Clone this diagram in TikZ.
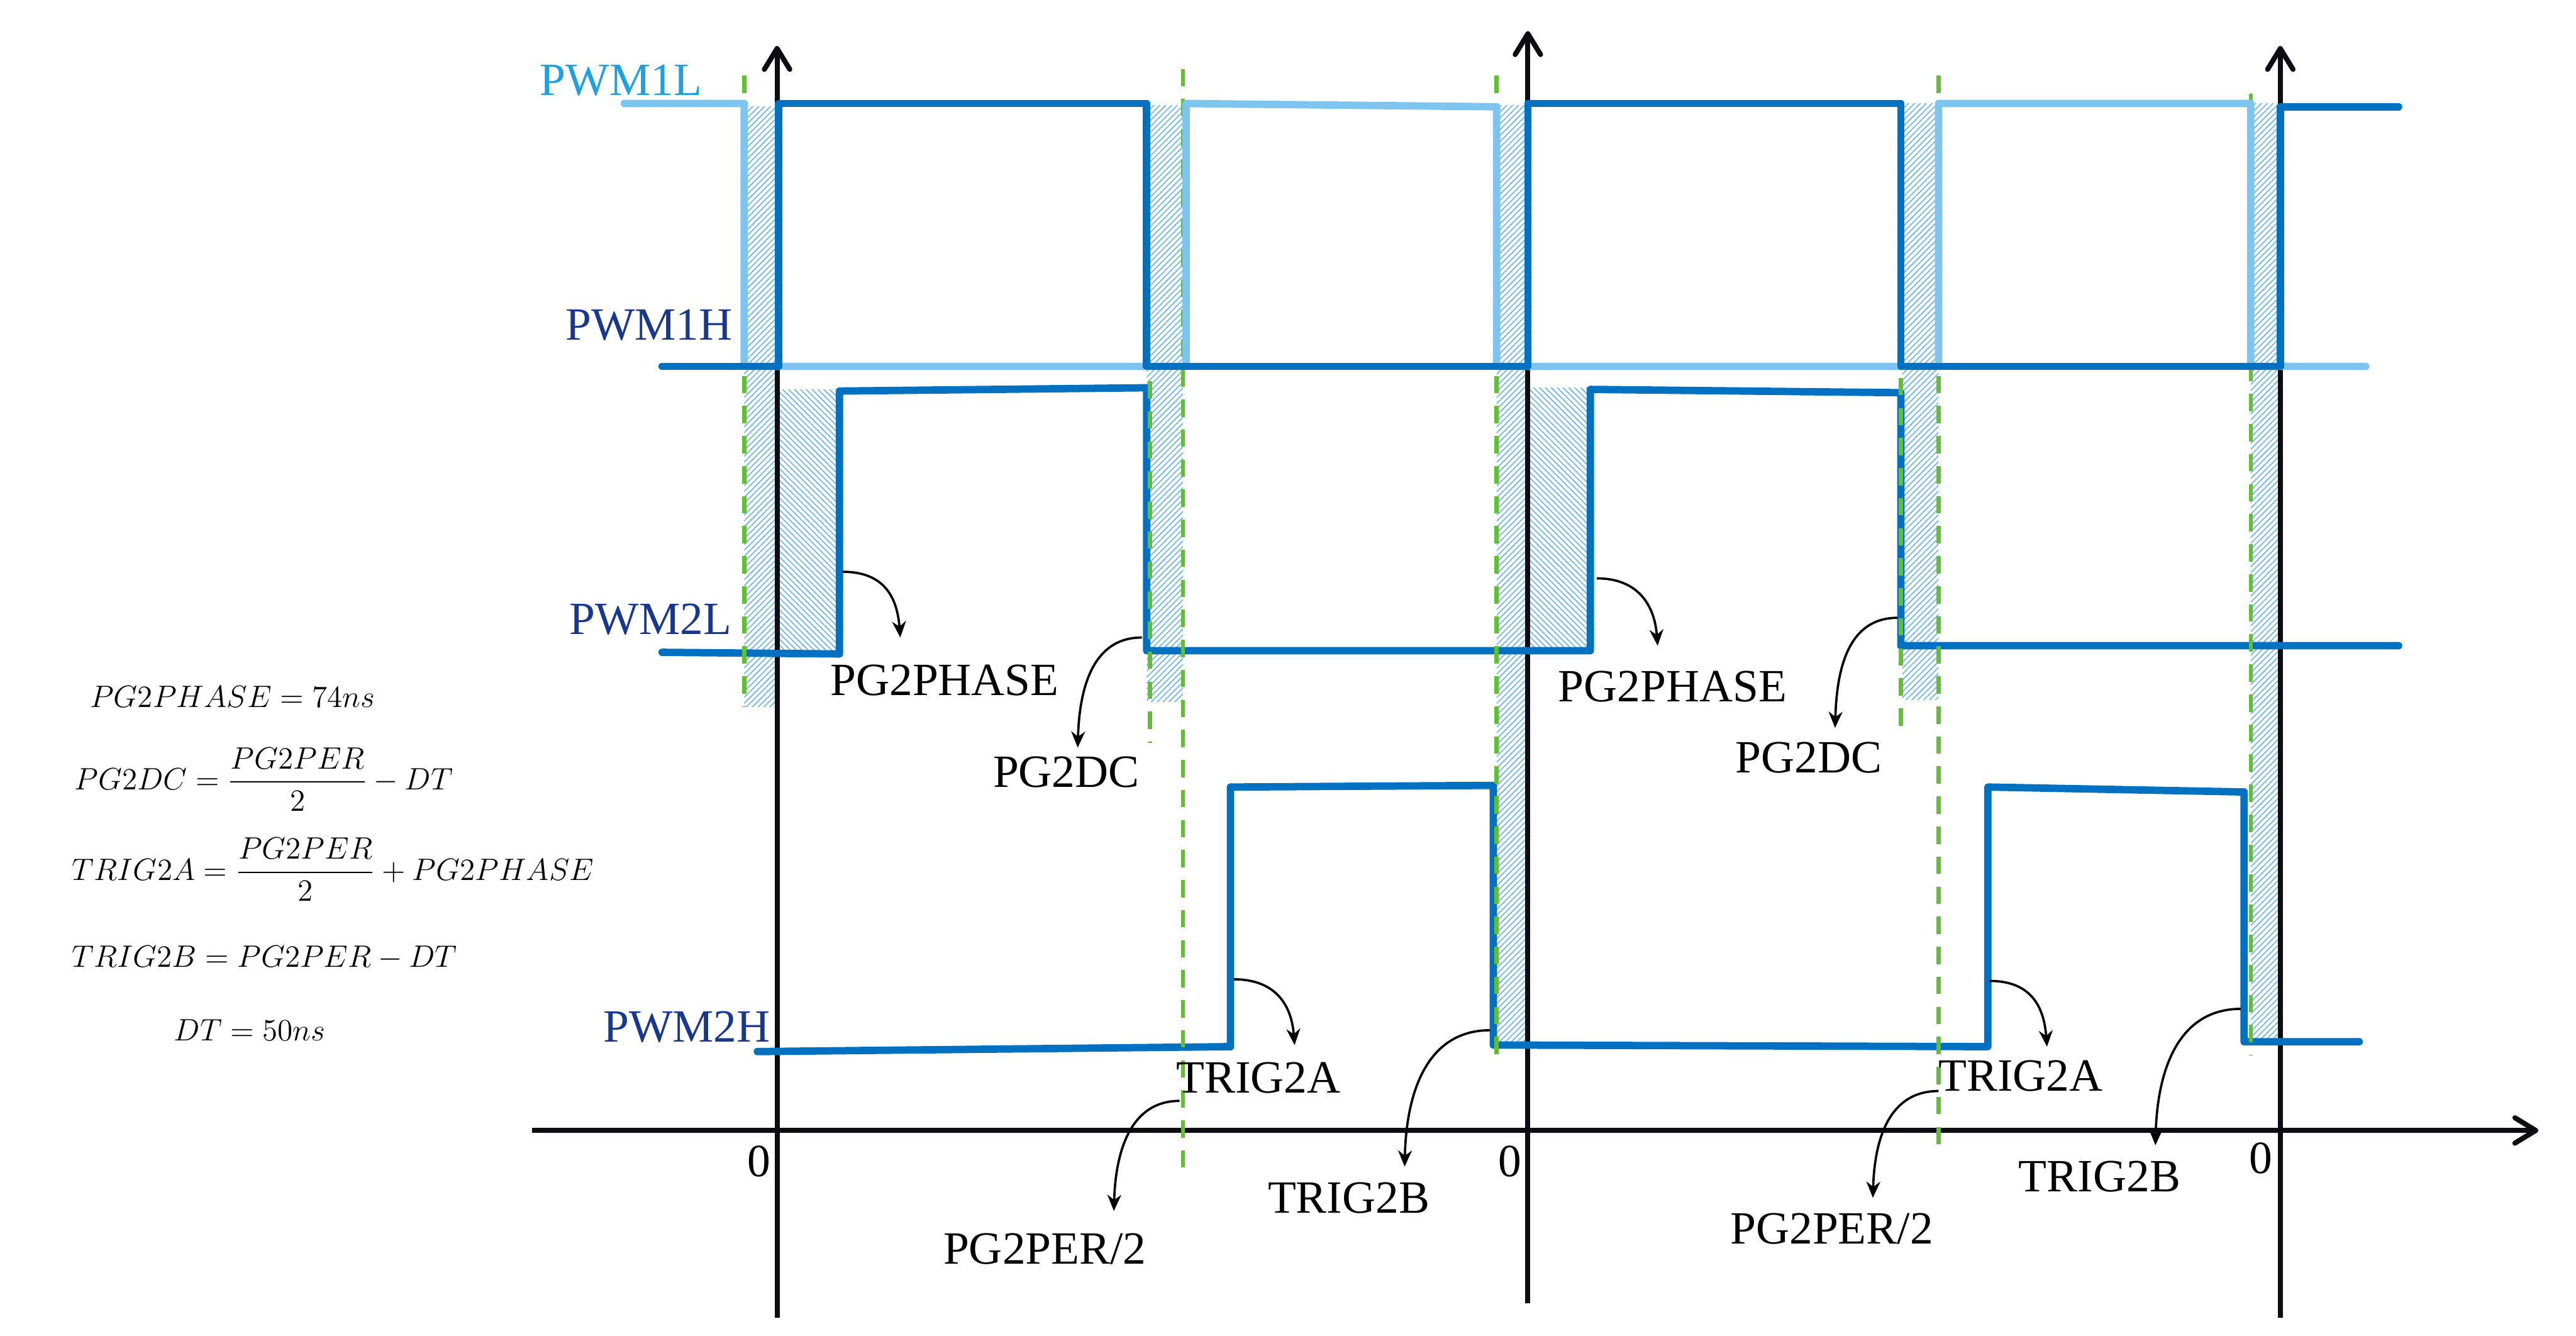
\documentclass[tikz,border=0pt]{standalone}
\usepackage{amsmath}
\usepackage{fontspec}
\newfontfamily\lblfont{Liberation Serif}
\usepackage{tikz}
\usetikzlibrary{arrows.meta,patterns.meta}
\definecolor{sigdark}{RGB}{0,112,192}
\definecolor{siglight}{RGB}{125,197,238}
\definecolor{hatchblue}{RGB}{105,182,230}
\definecolor{dtgreen}{RGB}{98,190,52}
\definecolor{lblcyan}{RGB}{30,160,225}
\definecolor{lblnavy}{RGB}{25,55,140}
\definecolor{axisblack}{RGB}{12,12,18}
\tikzset{
  axisln/.style={-{Straight Barb[length=9pt,width=11pt,round]}, line width=2.2pt, axisblack},
  sigln/.style={line width=3.2pt, line cap=round, line join=round},
  dtline/.style={dtgreen, line width=1.8pt, dash pattern=on 7.5pt off 5.5pt},
  callout/.style={-{Stealth[length=7pt,width=6pt]}, line width=1pt, black},
  lbl/.style={font={\lblfont\fontsize{20}{24}\selectfont}, inner sep=0pt},
  eqn/.style={font={\fontsize{14.4}{17}\selectfont}, inner sep=0pt, scale=0.93, transform shape},
}
\newcommand{\hatchbox}[3]{%
  \fill[pattern={Lines[angle=#1,distance=1.8pt,line width=0.45pt]}, pattern color=hatchblue] #2 rectangle #3;
}

\begin{document}
\begin{tikzpicture}[x=0.025cm, y=-0.025cm]
  \useasboundingbox (0,0) rectangle (1568,813);
  % dead time bands
  \hatchbox{45}{(453,65)}{(473,430)}
  \hatchbox{45}{(698,64)}{(720,427)}
  \hatchbox{45}{(911,64)}{(930,634)}
  \hatchbox{45}{(1158,63)}{(1180,426)}
  \hatchbox{45}{(1370,63)}{(1388,633)}
  % phase shift bands
  \hatchbox{-45}{(474,237)}{(509,397)}
  \hatchbox{-45}{(931,236)}{(967,394)}
  % axes
  \draw[axisln] (324,688) -- (1545,688);
  \foreach \x/\ya/\yb in {473/802/28, 930/793/19, 1388/802/28}
    \draw[axisln] (\x,\ya) -- (\x,\yb);
  % PWM2L, PWM2H
  \draw[sigln, sigdark] (403,397) -- (511,398) -- (511,238) -- (698,236) -- (698,396)
    -- (968,396) -- (968,237) -- (1157,239) -- (1157,393) -- (1460,393);
  \draw[sigln, sigdark] (461,640) -- (749,637) -- (749,479) -- (909,478) -- (909,636)
    -- (1210,637) -- (1210,479) -- (1366,482) -- (1366,634) -- (1436,634);
  % dead time guides
  \foreach \x/\ya/\yb in {453/46/430, 700/232/452, 720/42/713, 911/46/646,
                          1157/230/444, 1180/46/699, 1370/57/642}
    \draw[dtline] (\x,\ya) -- (\x,\yb);
  % PWM1L, PWM1H
  \draw[sigln, siglight] (380,63) -- (453,63) -- (453,223) -- (722,223) -- (722,63)
    -- (911,65) -- (911,223) -- (1180,223) -- (1180,63) -- (1370,63) -- (1370,223) -- (1440,223);
  \draw[sigln, sigdark] (403,223) -- (474,223) -- (474,63) -- (698,63) -- (698,223)
    -- (930,223) -- (930,63) -- (1157,63) -- (1157,223) -- (1388,223) -- (1388,65) -- (1460,65);
  % signal names
  \node[lbl, lblcyan] (pwm1l) at (378,49) {PWM1L};
  \node[lbl, lblnavy] (pwm1h) at (395,198) {PWM1H};
  \node[lbl, lblnavy] (pwm2l) at (396,377) {PWM2L};
  \node[lbl, lblnavy] (pwm2h) at (418,625) {PWM2H};
  % zero marks
  \node[lbl] (zeroA) at (462,707) {0};
  \node[lbl] (zeroB) at (919,707) {0};
  \node[lbl] (zeroC) at (1376,705) {0};
  % register labels
  \node[lbl] (phaseA) at (575,414) {PG2PHASE};
  \node[lbl] (phaseB) at (1018,418) {PG2PHASE};
  \node[lbl] (dcA) at (649,470) {PG2DC};
  \node[lbl] (dcB) at (1101,461) {PG2DC};
  \node[lbl] (trigaA) at (766,656) {TRIG2A};
  \node[lbl] (trigaB) at (1230,655) {TRIG2A};
  \node[lbl] (halfA) at (636,760) {PG2PER/2};
  \node[lbl] (halfB) at (1115,748) {PG2PER/2};
  \node[lbl] (trigbA) at (821,729) {TRIG2B};
  \node[lbl] (trigbB) at (1278,716) {TRIG2B};
  % callout ends
  \coordinate (phaseAs) at (513,348);  \coordinate (phaseAt) at (548,388);
  \coordinate (phaseBs) at (972,352);  \coordinate (phaseBt) at (1009,393);
  \coordinate (dcAs) at (695,388);     \coordinate (dcAt) at (656,455);
  \coordinate (dcBs) at (1155,376);    \coordinate (dcBt) at (1117,443);
  \coordinate (trigaAs) at (751,596);  \coordinate (trigaAt) at (788,636);
  \coordinate (trigaBs) at (1211,597); \coordinate (trigaBt) at (1246,637);
  \coordinate (halfAs) at (718,670);   \coordinate (halfAt) at (678,737);
  \coordinate (halfBs) at (1180,664);  \coordinate (halfBt) at (1140,729);
  \coordinate (trigbAs) at (907,627);  \coordinate (trigbAt) at (855,710);
  \coordinate (trigbBs) at (1364,614); \coordinate (trigbBt) at (1312,697);
  % callouts
  \draw[callout] (phaseAs) .. controls +(24,0) and +(-2,-26) .. (phaseAt);
  \draw[callout] (phaseBs) .. controls +(24,0) and +(-2,-26) .. (phaseBt);
  \draw[callout] (dcAs) .. controls +(-30,0) and +(1,-36) .. (dcAt);
  \draw[callout] (dcBs) .. controls +(-30,0) and +(1,-36) .. (dcBt);
  \draw[callout] (trigaAs) .. controls +(24,0) and +(-2,-26) .. (trigaAt);
  \draw[callout] (trigaBs) .. controls +(24,0) and +(-2,-26) .. (trigaBt);
  \draw[callout] (halfAs) .. controls +(-30,0) and +(1,-36) .. (halfAt);
  \draw[callout] (halfBs) .. controls +(-30,0) and +(1,-36) .. (halfBt);
  \draw[callout] (trigbAs) .. controls +(-38,0) and +(1,-46) .. (trigbAt);
  \draw[callout] (trigbBs) .. controls +(-38,0) and +(1,-46) .. (trigbBt);
  % register equations
  \node[eqn] (eqPhase) at (141.5,424) {$PG2PHASE = 74ns$};
  \node[eqn] (eqDC) at (160.5,474.3) {$PG2DC = \dfrac{PG2PER}{2} - DT$};
  \node[eqn] (eqTrigA) at (202.7,529.3) {$TRIG2A = \dfrac{PG2PER}{2} + PG2PHASE$};
  \node[eqn] (eqTrigB) at (161,583) {$TRIG2B = PG2PER - DT$};
  \node[eqn] (eqDT) at (152,627) {$DT = 50ns$};
\end{tikzpicture}
\end{document}
